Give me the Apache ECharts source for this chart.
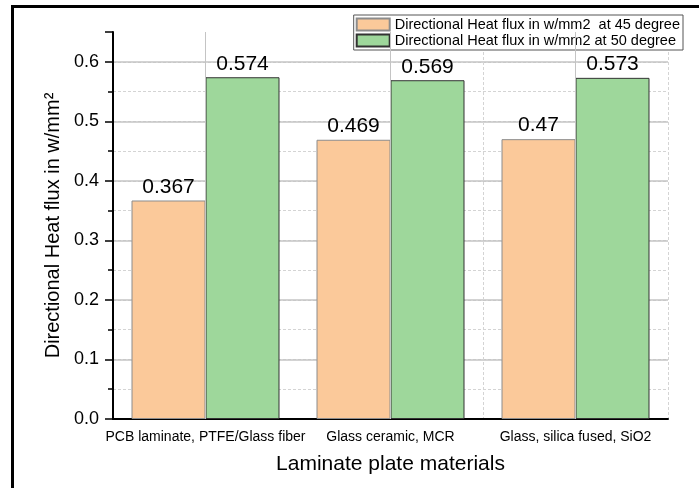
<!DOCTYPE html>
<html>
<head>
<meta charset="utf-8">
<script src="https://cdn.jsdelivr.net/npm/echarts@6/dist/echarts.min.js"></script>
<style>
html,body{margin:0;padding:0;background:#fff;}
#main{width:699px;height:488px;}
</style>
</head>
<body>
<div id="main"></div>
<script>
// materials on the x axis
const materials = ['PCB laminate, PTFE/Glass fiber', 'Glass ceramic, MCR', 'Glass, silica fused, SiO2']
const name45 = 'Directional Heat flux in w/mm2  at 45 degree'
const name50 = 'Directional Heat flux in w/mm2 at 50 degree'
const flux45 = [0.367, 0.469, 0.47]
const flux50 = [0.574, 0.569, 0.573]

const font = 'Arial, "Liberation Sans", sans-serif'
const myChart = echarts.init(document.getElementById('main'))

const option = {
    backgroundColor: '#fff',
    animation: false,
    textStyle: { fontFamily: font },
    graphic: [{
        type: 'rect',
        shape: { x: 12.5, y: 6.5, width: 800, height: 600 },
        style: { fill: 'none', stroke: '#000', lineWidth: 3 },
        silent: true
    }],
    grid: { left: 113, right: 31, top: 32, bottom: 69 },
    legend: {
        orient: 'vertical',
        right: 16,
        top: 15,
        backgroundColor: '#fff',
        borderColor: '#555',
        borderWidth: 1,
        borderRadius: 0,
        padding: [2, 3, 2, 2],
        itemWidth: 33,
        itemHeight: 12,
        itemGap: 1,
        icon: 'rect',
        textStyle: { fontSize: 14.5, lineHeight: 15, color: '#000', fontFamily: font },
        data: [name45, name50]
    },
    xAxis: [
        {
            type: 'category',
            data: materials,
            name: 'Laminate plate materials',
            nameLocation: 'middle',
            nameGap: 35,
            nameTextStyle: { fontSize: 21, color: '#000', fontFamily: font },
            axisLine: { lineStyle: { color: '#000', width: 2 } },
            axisTick: { alignWithLabel: true, length: 6, lineStyle: { color: '#000', width: 1.5 } },
            axisLabel: { interval: 0, fontSize: 14, color: '#000', margin: 11 },
            splitLine: { show: false }
        },
        {
            type: 'category',
            data: materials,
            position: 'bottom',
            axisLine: { show: false },
            axisTick: { length: 4, lineStyle: { color: '#000', width: 1.5 } },
            axisLabel: { show: false },
            splitLine: { show: true, lineStyle: { color: '#d4d4d4', type: [3, 2], width: 1 } }
        }
    ],
    yAxis: [
        {
            type: 'value',
            min: 0,
            max: 0.65,
            interval: 0.05,
            name: 'Directional Heat flux in w/mm\u00b2',
            nameLocation: 'middle',
            nameGap: 46,
            nameTextStyle: { fontSize: 20, color: '#000', fontFamily: font },
            axisLine: { show: true, lineStyle: { color: '#000', width: 2 } },
            axisTick: { show: true, length: 5, lineStyle: { color: '#000', width: 1.5 } },
            axisLabel: {
                fontSize: 18, color: '#000', margin: 14,
                formatter: function (v) {
                    const k = Math.round(v * 100)
                    return k % 10 === 0 ? (k / 100).toFixed(1) : ''
                }
            },
            splitLine: { show: true, showMaxLine: false, showMinLine: false, lineStyle: { color: '#d4d4d4', type: [3, 2], width: 1 } }
        },
        {
            type: 'value',
            min: 0,
            max: 0.65,
            interval: 0.1,
            position: 'left',
            axisLine: { show: false },
            axisTick: { show: true, length: 8, lineStyle: { color: '#000', width: 1.5 } },
            axisLabel: { show: false },
            splitLine: { show: true, showMaxLine: false, showMinLine: false, lineStyle: { color: '#c4c4c4', width: 1.5 } }
        }
    ],
    series: [
        {
            // holds the solid vertical grid lines at the category centres
            name: 'grid',
            type: 'line',
            data: [],
            silent: true,
            markLine: {
                silent: true,
                symbol: 'none',
                label: { show: false },
                lineStyle: { color: '#c4c4c4', type: 'solid', width: 1 },
                data: materials.map(m => ({ xAxis: m }))
            }
        },
        {
            name: name45,
            type: 'bar',
            data: flux45,
            barGap: '0%',
            barCategoryGap: '20%',
            itemStyle: { color: '#fbc99a', borderColor: '#8c8c8c', borderWidth: 1 },
            label: { show: true, position: 'top', distance: 3, fontSize: 21, color: '#000' }
        },
        {
            name: name50,
            type: 'bar',
            data: flux50,
            barGap: '0%',
            barCategoryGap: '20%',
            itemStyle: { color: '#9ed79b', borderColor: '#333', borderWidth: 1 },
            label: { show: true, position: 'top', distance: 3, fontSize: 21, color: '#000' }
        }
    ]
}
myChart.setOption(option)
</script>
</body>
</html>
